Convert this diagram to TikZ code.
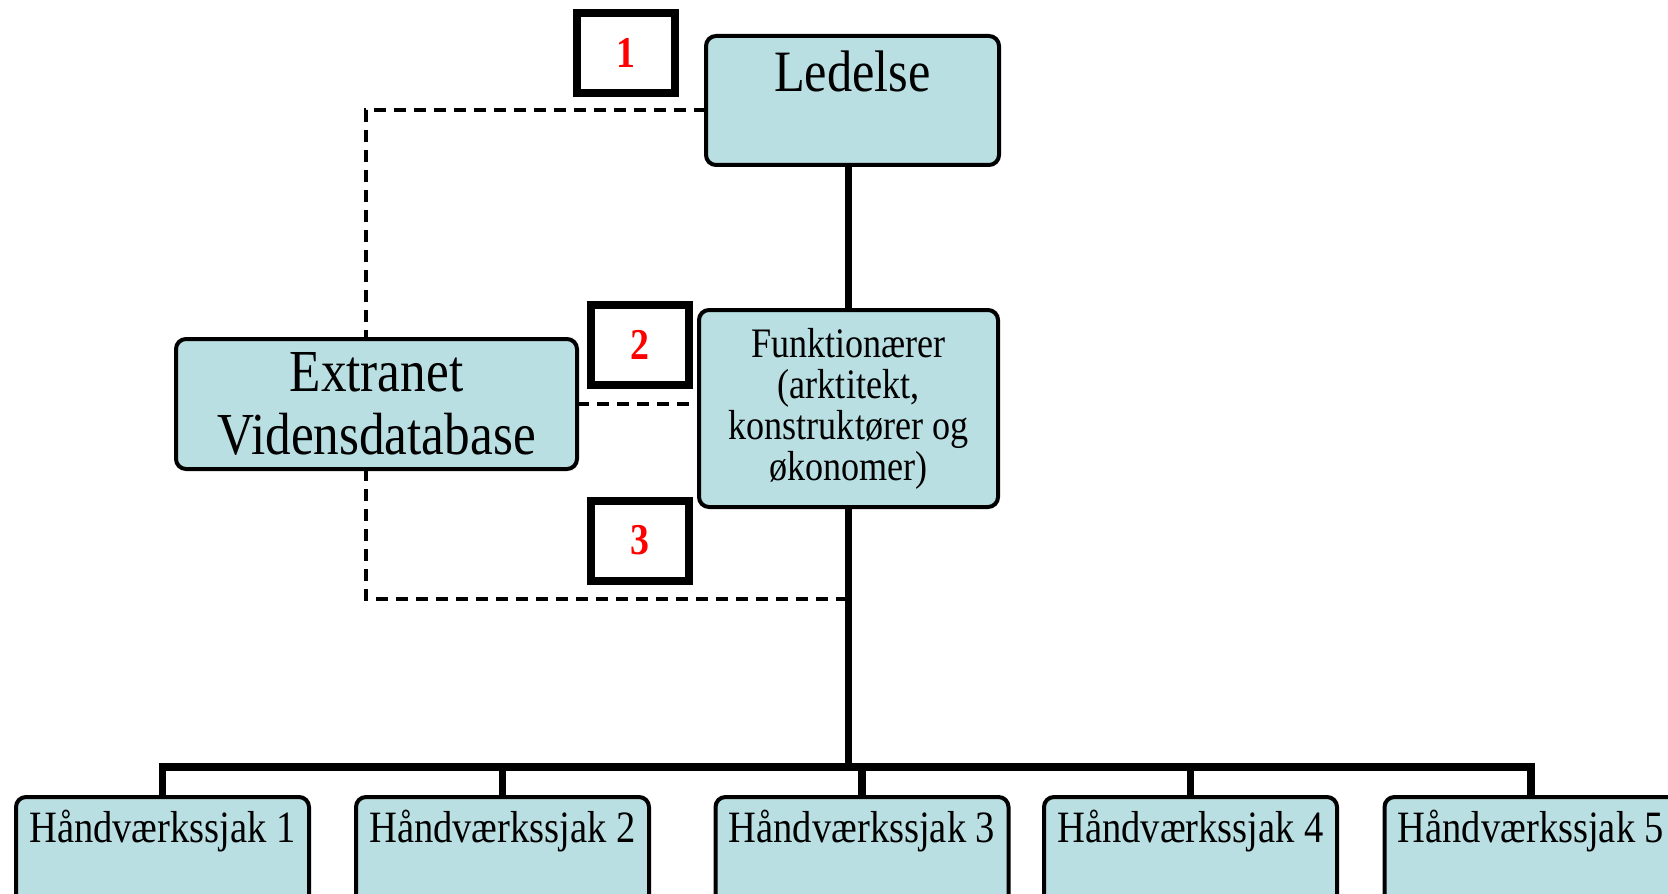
\documentclass[tikz,border=0pt]{standalone}
\usepackage{fontspec}
\setmainfont{Liberation Serif}[FakeStretch=0.86]
\usepackage{tikz}

\begin{document}
\begin{tikzpicture}[x=0.5pt,y=-0.5pt,
  orgbox/.style={draw,line width=2pt,fill=boxblue,rounded corners=5pt,inner sep=0pt,outer sep=0pt},
  numbox/.style={draw,line width=4pt,minimum width=49pt,minimum height=40pt,inner sep=0pt,text=red,font=\fontsize{22}{24}\selectfont\bfseries},
  sjakbox/.style={orgbox,anchor=north,minimum width=146.5pt,text height=22.5pt,text depth=50pt,font=\fontsize{22.4}{24}\selectfont},
  solidline/.style={line width=3.75pt},
  dashline/.style={line width=1.75pt,dash pattern=on 6pt off 4pt}]
\definecolor{boxblue}{HTML}{B9DFE3}
\useasboundingbox (0,0) rectangle (1668,893);
\clip (0,0) rectangle (1668,893);

\node [orgbox,anchor=north,minimum width=146.5pt,text height=28pt,text depth=36.5pt,font=\fontsize{29.3}{31.5}\selectfont] (ledelse) at (852.5,36) {Ledelse};
\node [orgbox,minimum width=200.5pt,minimum height=65pt,align=center,font=\fontsize{29.8}{31.5}\selectfont] (extranet) at (376.5,404) {Extranet\\Vidensdatabase};
\node [orgbox,minimum width=149.5pt,minimum height=98.5pt,align=center,font=\fontsize{21}{20.5}\selectfont] (funk) at (848.5,408.5) {Funktionærer\\(arktitekt,\\konstruktører og\\økonomer)};

\node [numbox] (nr1) at (626,53) {1};
\node [numbox] (nr2) at (639.5,344.5) {2};
\node [numbox] (nr3) at (639.5,540.5) {3};

\foreach \nr/\xpos in {1/162.5,2/502.5,3/862,4/1190.5,5/1531}
  {\node [sjakbox] (sjak\nr) at (\xpos,797) {Håndværkssjak \nr};}

\coordinate (bar) at (848.5,767);
\coordinate (dashjoin) at (848.5,599);

\draw [solidline] (ledelse.south -| funk.north) -- (funk.north);
\draw [solidline] (funk.south) -- (bar);
\draw [solidline] (sjak1.north) |- (bar) -| (sjak5.north);
\foreach \nr in {2,3,4}
  \draw [solidline] (sjak\nr.north) -- (sjak\nr.north |- bar);

\draw [dashline] ([yshift=-4.75pt]ledelse.west) -| ([xshift=-5.25pt]extranet.north);
\draw [dashline] (extranet.east) -- (extranet.east -| funk.west);
\draw [dashline] ([xshift=-5.25pt]extranet.south) |- (dashjoin);
\end{tikzpicture}
\end{document}
